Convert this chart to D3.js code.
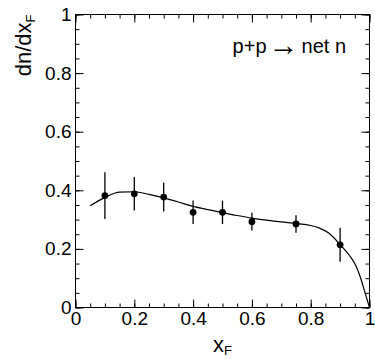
<!DOCTYPE html>
<meta charset="utf-8">
<script src="https://d3js.org/d3.v7.min.js"></script>
<style>
  body { margin: 0; background: #fff; }
  text { font-family: "Liberation Sans", Arial, sans-serif; fill: #000; }
</style>
<body>
<div id="chart"></div>
<script>
  // measured points
  const xf = [0.1, 0.2, 0.3, 0.4, 0.5, 0.6, 0.75, 0.9];
  const dndx = [0.382, 0.388, 0.377, 0.325, 0.325, 0.293, 0.285, 0.214];
  const err = [0.08, 0.057, 0.049, 0.04, 0.04, 0.03, 0.03, 0.058];

  // fitted curve
  const fitX = [0.05, 0.1, 0.15, 0.2, 0.25, 0.3, 0.35, 0.4, 0.45, 0.5, 0.55, 0.6, 0.65, 0.7, 0.75, 0.8, 0.83, 0.86, 0.9, 0.93, 0.955, 0.97, 0.985, 1.0];
  const fitY = [0.347, 0.376, 0.394, 0.395, 0.386, 0.374, 0.36, 0.345, 0.334, 0.324, 0.314, 0.305, 0.298, 0.292, 0.287, 0.28, 0.271, 0.255, 0.215, 0.18, 0.14, 0.1, 0.05, 0.0];

  const majorTicks = [0, 0.2, 0.4, 0.6, 0.8, 1];
  const minorTicks = d3.range(0, 21).map(i => i * 0.05);

  const W = 375, H = 359;
  const margin = { top: 14.5, right: 5.5, bottom: 51.5, left: 75.5 };

  const svg = d3.select("#chart").append("svg")
    .attr("width", W).attr("height", H);

  const x = d3.scaleLinear().domain([0, 1]).range([margin.left, W - margin.right]);
  const y = d3.scaleLinear().domain([0, 1]).range([H - margin.bottom, margin.top]);

  const fs = 19;

  // axes, ticks pointing inwards on all four sides
  function addAxis(axisFn, scale, transform, withLabels) {
    const minor = svg.append("g").attr("transform", transform)
      .call(axisFn(scale).tickValues(minorTicks).tickSize(-4).tickFormat(""));
    minor.select(".domain").remove();
    const major = svg.append("g").attr("transform", transform)
      .call(axisFn(scale).tickValues(majorTicks).tickSize(-8).tickPadding(4)
        .tickFormat(withLabels ? d3.format("") : ""));
    major.select(".domain").remove();
    major.selectAll("text").style("font-size", fs + "px");
    svg.selectAll("g line").attr("stroke", "#000");
    return major;
  }

  addAxis(d3.axisBottom, x, `translate(0,${H - margin.bottom})`, true);
  addAxis(d3.axisTop, x, `translate(0,${margin.top})`, false);
  addAxis(d3.axisLeft, y, `translate(${margin.left},0)`, true);
  addAxis(d3.axisRight, y, `translate(${W - margin.right},0)`, false);

  svg.append("rect")
    .attr("x", margin.left).attr("y", margin.top)
    .attr("width", W - margin.left - margin.right)
    .attr("height", H - margin.top - margin.bottom)
    .attr("fill", "none").attr("stroke", "#000").attr("stroke-width", 1);

  // fit curve
  const line = d3.line()
    .x(d => x(d[0])).y(d => y(d[1]))
    .curve(d3.curveMonotoneX);
  svg.append("path")
    .datum(fitX.map((v, i) => [v, fitY[i]]))
    .attr("d", line)
    .attr("fill", "none").attr("stroke", "#000").attr("stroke-width", 1.2);

  // error bars and markers
  const pts = xf.map((v, i) => ({ x: v, y: dndx[i], e: err[i] }));
  svg.append("g").selectAll("line").data(pts).join("line")
    .attr("x1", d => x(d.x)).attr("x2", d => x(d.x))
    .attr("y1", d => y(d.y - d.e)).attr("y2", d => y(d.y + d.e))
    .attr("stroke", "#000").attr("stroke-width", 1.3);
  svg.append("g").selectAll("circle").data(pts).join("circle")
    .attr("cx", d => x(d.x)).attr("cy", d => y(d.y))
    .attr("r", 3.4).attr("fill", "#000");

  // axis titles
  const xt = svg.append("text")
    .attr("x", (x(0) + x(1)) / 2).attr("y", 352)
    .attr("text-anchor", "middle").style("font-size", "22px");
  xt.append("tspan").text("x");
  xt.append("tspan").text("F").attr("dy", 3).style("font-size", "13px");

  const yt = svg.append("text")
    .attr("transform", `translate(31,${margin.top}) rotate(-90)`)
    .attr("text-anchor", "end").style("font-size", "22px");
  yt.append("tspan").text("dn/dx");
  yt.append("tspan").text("F").attr("dy", 4).style("font-size", "13px");

  // label
  const lab = svg.append("text")
    .attr("x", 346).attr("y", 53)
    .attr("text-anchor", "end").style("font-size", "20px");
  lab.append("tspan").text("p+p");
  lab.append("tspan").text("\u2192").attr("dx", 2).attr("dy", 2).style("font-size", "30px");
  lab.append("tspan").text("net n").attr("dx", 3).attr("dy", -2);
</script>
</body>
